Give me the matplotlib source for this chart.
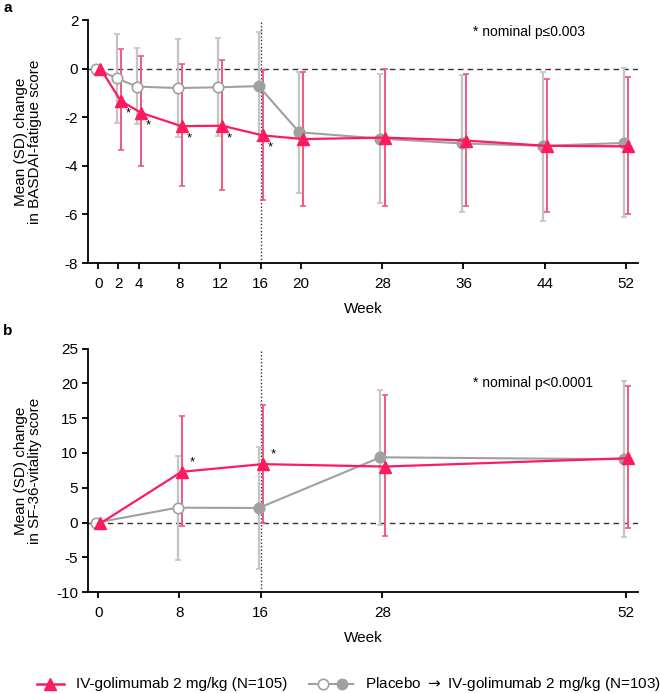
import numpy as np
import matplotlib
matplotlib.use("Agg")
import matplotlib.pyplot as plt
from matplotlib.lines import Line2D

plt.rcParams['font.family'] = ['Liberation Sans', 'DejaVu Sans']

PINK = '#FF1A5E'
PINK_ERR = '#F0587F'
GREY = '#A0A0A0'
GREY_ERR = '#C4C4C4'

# ---- Panel a: BASDAI-fatigue ----
weeks_a = [0, 2, 4, 8, 12, 16, 20, 28, 36, 44, 52]
iv_a_mean = [0, -1.32, -1.82, -2.37, -2.35, -2.75, -2.90, -2.84, -2.96, -3.18, -3.20]
iv_a_hi = [0, 0.81, 0.52, 0.17, 0.35, -0.04, -0.14, 0.00, -0.22, -0.44, -0.36]
iv_a_lo = [0, -3.35, -4.01, -4.84, -5.00, -5.42, -5.64, -5.65, -5.66, -5.90, -6.00]
pbo_a_mean = [0, -0.40, -0.74, -0.80, -0.77, -0.72, -2.62, -2.88, -3.08, -3.18, -3.06]
pbo_a_hi = [0, 1.41, 0.83, 1.22, 1.24, 1.52, -0.15, -0.24, -0.28, -0.13, 0.02]
pbo_a_lo = [0, -2.25, -2.29, -2.83, -2.77, -2.97, -5.10, -5.54, -5.90, -6.28, -6.12]
pbo_a_filled = [False, False, False, False, False, True, True, True, True, True, True]
star_a_weeks = [2, 4, 8, 12, 16]
yticks_a = [2, 0, -2, -4, -6, -8]

# ---- Panel b: SF-36 vitality ----
weeks_b = [0, 8, 16, 28, 52]
iv_b_mean = [-0.1, 7.30, 8.40, 8.05, 9.25]
iv_b_hi = [0, 15.3, 16.84, 18.27, 19.6]
iv_b_lo = [0, -0.47, 0.0, -1.9, -0.8]
pbo_b_mean = [0, 2.15, 2.10, 9.38, 9.10]
pbo_b_hi = [0, 9.6, 10.9, 19.1, 20.4]
pbo_b_lo = [0, -5.35, -6.7, -0.33, -2.1]
pbo_b_filled = [False, False, True, True, True]
star_b_weeks = [8, 16]
yticks_b = [25, 20, 15, 10, 5, 0, -5, -10]

W, H = 660, 693
fig = plt.figure(figsize=(W / 100, H / 100), dpi=100)

def fx(px):
    return px / W

def fy(py):
    return 1 - py / H

ax_a = fig.add_axes([fx(88), fy(263), fx(638) - fx(88), fy(20) - fy(263)])
ax_b = fig.add_axes([fx(88), fy(592.3), fx(638) - fx(88), fy(348.5) - fy(592.3)])

OFF_IV = 0.22
OFF_PBO = -0.18


def draw_panel(ax, weeks, ivm, ivh, ivl, pm, ph, pl, pfill, ylim, yticks, xticks,
               ylabel, note, note_y, stars, star_off):
    weeks = np.array(weeks, dtype=float)
    ivm = np.array(ivm); ivh = np.array(ivh); ivl = np.array(ivl)
    pm = np.array(pm); ph = np.array(ph); pl = np.array(pl)
    xi = weeks + OFF_IV
    xp = weeks + OFF_PBO
    ax.axhline(0, color='#333333', lw=1.0, ls=(0, (4, 3)), zorder=1)
    ax.axvline(16, color='#333333', lw=1.0, ls=(0, (1, 1.5)), zorder=1)
    # error bars (skip baseline)
    ax.errorbar(xp[1:], pm[1:], yerr=[pm[1:] - pl[1:], ph[1:] - pm[1:]], fmt='none',
                ecolor=GREY_ERR, elinewidth=1.6, capsize=2.2, capthick=1.2, zorder=2)
    ax.errorbar(xi[1:], ivm[1:], yerr=[ivm[1:] - ivl[1:], ivh[1:] - ivm[1:]], fmt='none',
                ecolor=PINK_ERR, elinewidth=1.4, capsize=2.2, capthick=1.2, zorder=3)
    # placebo line
    ax.plot(xp, pm, color=GREY, lw=1.5, zorder=4)
    pf = np.array(pfill)
    ax.plot(xp[~pf], pm[~pf], ls='none', marker='o', ms=7.5, mfc='white', mec=GREY,
            mew=1.2, zorder=5)
    ax.plot(xp[pf], pm[pf], ls='none', marker='o', ms=7.5, mfc=GREY, mec=GREY,
            mew=1.2, zorder=5)
    # IV line
    ax.plot(xi, ivm, color=PINK, lw=1.6, marker='^', ms=9, mfc=PINK, mec=PINK, zorder=6)
    # stars
    for w in stars:
        k = list(weeks).index(w)
        ax.annotate('*', xy=(xi[k], ivm[k]), xytext=star_off, textcoords='offset points',
                    ha='center', va='center', fontsize=9.5, zorder=7)
    ax.text(36.9, note_y, note, fontsize=10, ha='left', va='center')
    ax.set_xlim(-1, 53.2)
    ax.set_ylim(*ylim)
    ax.set_yticks(yticks)
    ax.set_yticklabels([str(t) for t in yticks])
    ax.set_xticks(xticks)
    ax.set_xticklabels([str(t) for t in xticks])
    for s in ['top', 'right']:
        ax.spines[s].set_visible(False)
    for s in ['left', 'bottom']:
        ax.spines[s].set_linewidth(1.3)
    ax.tick_params(axis='both', width=1.3, length=4, labelsize=11)
    ax.tick_params(axis='x', pad=6)
    ax.tick_params(axis='y', pad=3)
    ax.set_xlabel('Week', fontsize=11, labelpad=8)
    ax.set_ylabel(ylabel, fontsize=11, linespacing=1.05)
    ax.yaxis.set_label_coords(-0.083, 0.5)


draw_panel(ax_a, weeks_a, iv_a_mean, iv_a_hi, iv_a_lo, pbo_a_mean, pbo_a_hi, pbo_a_lo,
           pbo_a_filled, (-8, 2), yticks_a, weeks_a,
           'Mean (SD) change\nin BASDAI-fatigue score', '* nominal p\u22640.003', 1.5,
           star_a_weeks, (5.5, -9))
draw_panel(ax_b, weeks_b, iv_b_mean, iv_b_hi, iv_b_lo, pbo_b_mean, pbo_b_hi, pbo_b_lo,
           pbo_b_filled, (-10, 25), yticks_b, weeks_b,
           'Mean (SD) change\nin SF-36-vitality score', '* nominal p<0.0001', 20.0,
           star_b_weeks, (7.5, 7))

fig.text(fx(3), fy(8), 'a', fontsize=11, fontweight='bold', ha='left', va='center')
fig.text(fx(3), fy(331), 'b', fontsize=11, fontweight='bold', ha='left', va='center')

# legend (manual)
ly = fy(684)
fig.add_artist(Line2D([fx(37), fx(64)], [ly, ly], color=PINK, lw=1.8,
                      transform=fig.transFigure))
fig.add_artist(Line2D([fx(50.5)], [ly], marker='^', ms=9, color=PINK, ls='none',
                      transform=fig.transFigure))
fig.text(fx(76), ly, 'IV-golimumab 2 mg/kg (N=105)', fontsize=11, ha='left', va='center')
fig.add_artist(Line2D([fx(309), fx(353)], [ly, ly], color=GREY, lw=1.5,
                      transform=fig.transFigure))
fig.add_artist(Line2D([fx(323)], [ly], marker='o', ms=7.5, mfc='white', mec=GREY,
                      mew=1.2, ls='none', transform=fig.transFigure))
fig.add_artist(Line2D([fx(342)], [ly], marker='o', ms=7.5, mfc=GREY, mec=GREY,
                      ls='none', transform=fig.transFigure))
fig.text(fx(365), ly, r'Placebo $\rightarrow$ IV-golimumab 2 mg/kg (N=103)', fontsize=11,
         ha='left', va='center')

fig.savefig('out.png', dpi=100)
